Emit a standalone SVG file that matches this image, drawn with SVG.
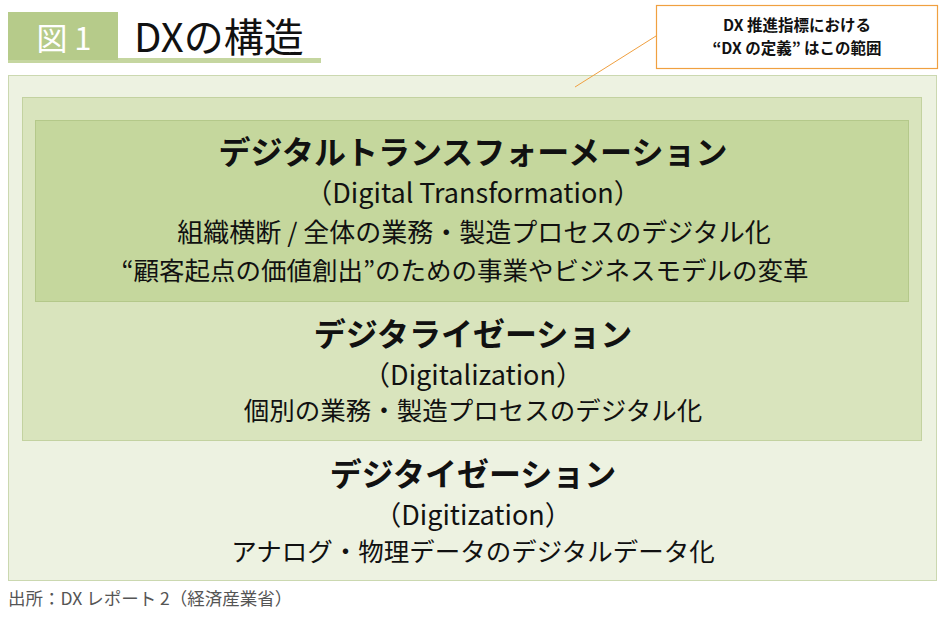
<svg xmlns="http://www.w3.org/2000/svg" width="945" height="642" viewBox="0 0 945 642">
<style>
text{font-family:"Noto Sans CJK JP","Noto Sans",sans-serif;fill:#111;}
.h{font-size:32px;font-weight:bold;text-anchor:middle;}
.s{font-size:25.5px;text-anchor:middle;}
.l{font-size:27px;text-anchor:middle;}
.c{font-size:15.5px;font-weight:bold;text-anchor:middle;}
</style>
<rect width="945" height="642" fill="#ffffff"/>
<g id="title">
<rect x="8" y="58" width="313" height="5" fill="#c5d6a0"/>
<rect x="8" y="12" width="110" height="48" fill="#b6cb8a"/>
<text x="64" y="50" style="font-size:31px;fill:#ffffff;text-anchor:middle;">図 1</text>
<text x="134" y="52" style="font-size:40px;">DXの構造</text>
</g>
<g id="digitization">
<rect x="8.5" y="75.5" width="928" height="505" fill="#edf2e1" stroke="#cbd8b0" stroke-width="1"/>
<text class="h" x="473" y="486">デジタイゼーション</text>
<text class="l" x="473" y="525">（Digitization）</text>
<text class="s" x="473" y="561">アナログ・物理データのデジタルデータ化</text>
</g>
<g id="digitalization">
<rect x="22.5" y="97.5" width="899" height="343" fill="#d9e4bd" stroke="#c3d2a0" stroke-width="1"/>
<text class="h" x="473" y="346">デジタライゼーション</text>
<text class="l" x="473" y="385">（Digitalization）</text>
<text class="s" x="473" y="420">個別の業務・製造プロセスのデジタル化</text>
</g>
<g id="dx">
<rect x="35.5" y="120.5" width="873" height="181" fill="#c5d79d" stroke="#b4c88a" stroke-width="1"/>
<text class="h" x="473" y="164">デジタルトランスフォーメーション</text>
<text class="l" x="473" y="203">（Digital Transformation）</text>
<text class="s" x="474" y="242" style="font-size:26px">組織横断 / 全体の業務・製造プロセスのデジタル化</text>
<text class="s" x="465" y="280" style="font-size:25.5px">“顧客起点の価値創出”のための事業やビジネスモデルの変革</text>
</g>
<g id="connectors">
<line x1="575" y1="87" x2="656" y2="36" stroke="#f0a040" stroke-width="1"/>
</g>
<g id="callout">
<rect x="656.5" y="5.5" width="281" height="63" fill="#ffffff" stroke="#f0a040" stroke-width="1.2"/>
<text class="c" x="797" y="31">DX 推進指標における</text>
<text class="c" x="797" y="54">“DX の定義” はこの範囲</text>
</g>
<text x="8" y="605" style="font-size:17.5px;fill:#555;">出所：DX レポート 2（経済産業省）</text>
</svg>
